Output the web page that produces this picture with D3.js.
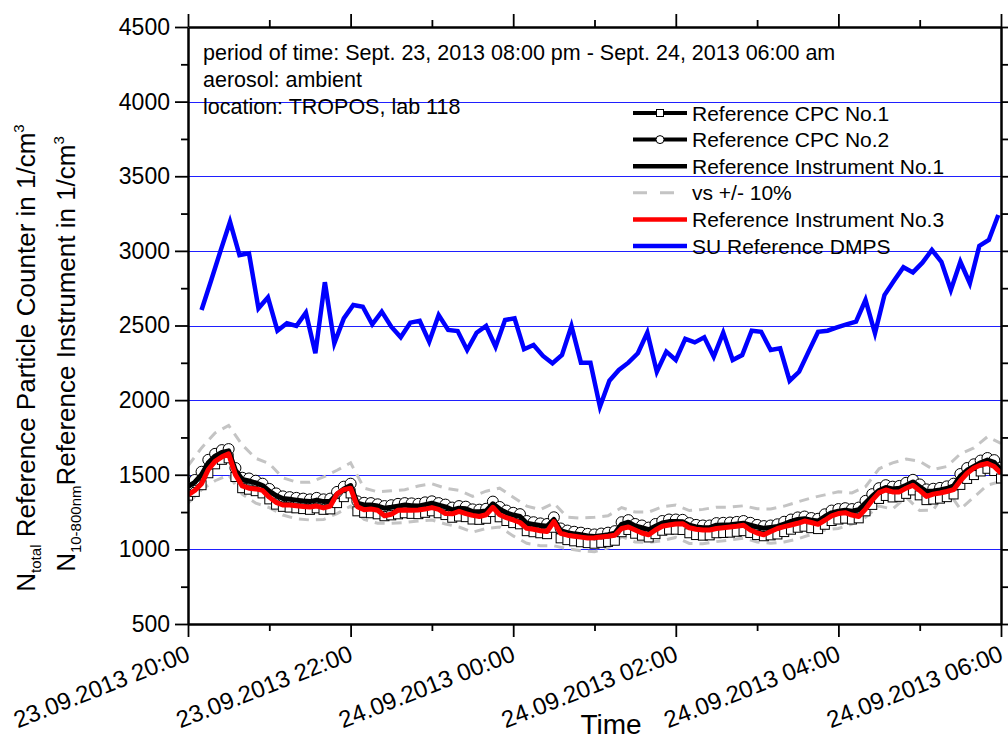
<!DOCTYPE html>
<html>
<head>
<meta charset="utf-8">
<script src="https://cdn.jsdelivr.net/npm/d3@7"></script>
<style>
  body { margin: 0; background: #fff; }
  svg { display: block; font-family: "Liberation Sans", Arial, sans-serif; }
</style>
</head>
<body>
<svg id="chart" width="1008" height="742"></svg>
<script>
// ---- data ---------------------------------------------------------------
const startTime = "2013-09-23 20:00";
const endTime = "2013-09-24 06:00";

// 5-minute series, starting 20:00
const refInstrument1 = [
  1420,1450,1500,1580,1625,1650,1660,1530,1468,1458,
  1445,1428,1390,1360,1341,1336,1330,1324,1320,1330,
  1320,1322,1370,1405,1428,1310,1298,1297,1290,1276,
  1282,1290,1297,1293,1290,1300,1309,1297,1285,1265,
  1276,1272,1253,1252,1258,1305,1270,1245,1230,1221,
  1175,1167,1160,1155,1200,1126,1112,1104,1098,1090,
  1086,1092,1098,1108,1168,1182,1157,1145,1132,1155,
  1177,1186,1186,1185,1162,1150,1145,1146,1162,1163,
  1165,1170,1175,1163,1150,1141,1147,1154,1170,1187,
  1200,1206,1195,1190,1220,1245,1256,1262,1256,1265,
  1310,1356,1395,1415,1405,1410,1430,1452,1420,1388,
  1392,1398,1408,1425,1490,1530,1555,1580,1598,1583,
  1532
];
const refInstrument3 = [
  1365,1395,1440,1535,1590,1620,1640,1500,1425,1410,
  1405,1395,1350,1315,1297,1297,1292,1288,1284,1290,
  1278,1290,1372,1400,1410,1286,1266,1270,1262,1225,
  1235,1262,1264,1262,1264,1270,1280,1268,1240,1238,
  1255,1240,1228,1220,1232,1282,1232,1212,1197,1180,
  1141,1135,1125,1120,1186,1108,1095,1088,1082,1076,
  1078,1083,1088,1095,1140,1150,1130,1110,1098,1130,
  1155,1163,1170,1172,1145,1135,1130,1130,1140,1145,
  1150,1155,1162,1130,1110,1098,1120,1140,1152,1163,
  1175,1190,1180,1168,1195,1225,1240,1246,1230,1220,
  1270,1330,1380,1398,1385,1385,1410,1430,1395,1355,
  1370,1378,1388,1400,1460,1510,1545,1565,1575,1555,
  1510
];
const cpc2 = [
  1435,1465,1520,1600,1640,1665,1672,1545,1480,1475,
  1460,1440,1405,1375,1355,1350,1345,1340,1335,1345,
  1335,1340,1385,1420,1440,1322,1312,1310,1302,1290,
  1296,1305,1310,1308,1305,1315,1322,1310,1300,1280,
  1290,1286,1268,1266,1272,1320,1284,1260,1245,1236,
  1190,1182,1174,1170,1215,1140,1126,1118,1112,1104,
  1100,1106,1112,1122,1182,1196,1170,1160,1146,1170,
  1190,1200,1200,1198,1176,1164,1160,1160,1176,1178,
  1180,1184,1190,1178,1164,1156,1160,1168,1185,1200,
  1214,1220,1210,1205,1235,1260,1270,1276,1270,1280,
  1325,1370,1410,1430,1420,1425,1446,1466,1435,1402,
  1406,1412,1422,1440,1505,1545,1570,1595,1612,1598,
  1548
];
const cpc1 = [
  1360,1385,1430,1510,1570,1600,1610,1485,1410,1400,
  1390,1375,1335,1300,1285,1280,1275,1270,1265,1275,
  1265,1268,1310,1350,1375,1255,1245,1242,1235,1222,
  1228,1235,1242,1238,1236,1245,1255,1242,1230,1212,
  1220,1216,1200,1198,1205,1250,1215,1190,1176,1168,
  1122,1115,1108,1102,1145,1074,1062,1054,1048,1042,
  1038,1044,1050,1058,1115,1130,1105,1092,1080,1102,
  1125,1132,1132,1130,1108,1096,1092,1094,1108,1110,
  1112,1118,1122,1110,1096,1088,1094,1100,1116,1132,
  1145,1152,1142,1136,1165,1190,1200,1206,1200,1208,
  1255,1298,1338,1358,1348,1352,1372,1395,1362,1330,
  1334,1340,1350,1368,1432,1472,1498,1522,1540,1525,
  1475
];

// 10-minute band lines, starting 20:00
const bandUpper = [
  1560,1680,1780,1830,1700,1610,1575,1480,1450,1450,
  1485,1530,1580,1410,1386,1392,1400,1425,1440,1410,
  1395,1355,1390,1410,1350,1290,1266,1310,1215,1210,
  1215,1225,1280,1250,1250,1285,1297,1260,1268,1283,
  1283,1292,1272,1270,1290,1318,1345,1365,1386,1378,
  1420,1540,1580,1605,1590,1535,1555,1640,1680,1755,
  1710
];
const bandLower = [
  1310,1400,1460,1498,1370,1310,1280,1230,1205,1197,
  1200,1240,1290,1200,1175,1175,1180,1190,1197,1170,
  1150,1115,1140,1150,1090,1041,1025,1024,1005,990,
  984,1010,1085,1050,1046,1058,1080,1040,1038,1052,
  1063,1075,1050,1041,1050,1070,1100,1130,1140,1170,
  1215,1290,1270,1350,1260,1264,1400,1270,1350,1431,
  1455
];

// DMPS scans every 7 minutes, first scan 20:10
const dmpsStart = "2013-09-23 20:10";
const dmps = [
  2604,2800,3000,3195,2972,2984,2615,2689,2465,2515,
  2497,2586,2314,2790,2381,2548,2637,2626,2508,2593,
  2492,2421,2519,2532,2391,2570,2470,2463,2336,2452,
  2497,2358,2537,2548,2341,2369,2296,2247,2302,2497,
  2251,2251,1956,2130,2202,2251,2314,2452,2190,2325,
  2269,2410,2387,2421,2291,2452,2269,2302,2465,2458,
  2336,2347,2130,2190,2325,2458,2465,2488,2508,2526,
  2671,2448,2704,2800,2890,2856,2921,3006,2927,2738,
  2927,2783,3033,3073,3240
];

const yTicks = [500,1000,1500,2000,2500,3000,3500,4000,4500];
const yMinorTicks = [750,1250,1750,2250,2750,3250,3750,4250];
const gridValues = [1000,1500,2000,2500,3000,3500,4000];

const infoLines = [
  "period of time: Sept. 23, 2013 08:00 pm - Sept. 24, 2013 06:00 am",
  "aerosol: ambient",
  "location: TROPOS, lab 118"
];
const legendLabels = [
  "Reference CPC No.1",
  "Reference CPC No.2",
  "Reference Instrument No.1",
  "vs +/- 10%",
  "Reference Instrument No.3",
  "SU Reference DMPS"
];

(function draw() {
  // ---- scales -----------------------------------------------------------
  const parse = d3.timeParse("%Y-%m-%d %H:%M");
  const t0 = parse(startTime), t1 = parse(endTime);
  const pL = 188, pR = 1001, pT = 27, pB = 624;

  const x = d3.scaleTime().domain([t0, t1]).range([pL, pR]);
  const y = d3.scaleLinear().domain([500, 4500]).range([pB, pT]);

  const series = (vals, start, stepMin) =>
    vals.map((v, i) => ({ t: d3.timeMinute.offset(start, i * stepMin), v }));

  const sInst1 = series(refInstrument1, t0, 5);
  const sInst3 = series(refInstrument3, t0, 5);
  const sCpc1 = series(cpc1, t0, 5);
  const sCpc2 = series(cpc2, t0, 5);
  const sUp = series(bandUpper, t0, 10);
  const sLo = series(bandLower, t0, 10);
  const sDmps = series(dmps, parse(dmpsStart), 7);

  const line = d3.line().x(d => x(d.t)).y(d => y(d.v));

  const svg = d3.select("#chart");
  svg.append("defs").append("clipPath").attr("id", "plotClip")
    .append("rect").attr("x", pL).attr("y", pT)
    .attr("width", pR - pL).attr("height", pB - pT);

  // ---- grid -------------------------------------------------------------
  svg.append("g").selectAll("line").data(gridValues).join("line")
    .attr("x1", pL).attr("x2", pR)
    .attr("y1", d => Math.round(y(d)) + 0.5).attr("y2", d => Math.round(y(d)) + 0.5)
    .attr("stroke", "#1f1fff").attr("stroke-width", 1);

  // ---- data marks -------------------------------------------------------
  const plot = svg.append("g").attr("clip-path", "url(#plotClip)");

  [sUp, sLo].forEach(s => plot.append("path").datum(s)
    .attr("d", line).attr("fill", "none")
    .attr("stroke", "#c4c4c4").attr("stroke-width", 3)
    .attr("stroke-dasharray", "10,7"));

  plot.append("path").datum(sCpc1).attr("d", line).attr("fill", "none")
    .attr("stroke", "#000").attr("stroke-width", 2.5);
  plot.append("g").selectAll("rect").data(sCpc1).join("rect")
    .attr("x", d => x(d.t) - 4.5).attr("y", d => y(d.v) - 4.5)
    .attr("width", 9).attr("height", 9)
    .attr("fill", "#fff").attr("stroke", "#000").attr("stroke-width", 1);

  plot.append("path").datum(sCpc2).attr("d", line).attr("fill", "none")
    .attr("stroke", "#000").attr("stroke-width", 2.5);
  plot.append("g").selectAll("circle").data(sCpc2).join("circle")
    .attr("cx", d => x(d.t)).attr("cy", d => y(d.v)).attr("r", 5.5)
    .attr("fill", "#fff").attr("stroke", "#000").attr("stroke-width", 1);

  plot.append("path").datum(sInst1).attr("d", line).attr("fill", "none")
    .attr("stroke", "#000").attr("stroke-width", 5).attr("stroke-linejoin", "round");
  plot.append("path").datum(sInst3).attr("d", line).attr("fill", "none")
    .attr("stroke", "#ff0000").attr("stroke-width", 5).attr("stroke-linejoin", "round");
  plot.append("path").datum(sDmps).attr("d", line).attr("fill", "none")
    .attr("stroke", "#0000ff").attr("stroke-width", 4.5);

  // ---- axes -------------------------------------------------------------
  const hours2 = d3.timeHour.every(2).range(t0, d3.timeMinute.offset(t1, 1));
  const hours1 = d3.timeHour.every(1).range(t0, d3.timeMinute.offset(t1, 1))
    .filter(d => d.getHours() % 2 === 1);

  function styleAxis(g) {
    g.select(".domain").attr("stroke", "#000").attr("stroke-width", 2.5);
    g.selectAll(".tick line").attr("stroke", "#000").attr("stroke-width", 1.8);
  }

  // left
  svg.append("g").attr("transform", `translate(${pL},0)`)
    .call(d3.axisLeft(y).tickValues(yMinorTicks).tickSize(7).tickFormat("").tickSizeOuter(0))
    .call(g => g.select(".domain").remove())
    .call(styleAxis);
  svg.append("g").attr("transform", `translate(${pL},0)`)
    .call(d3.axisLeft(y).tickValues(yTicks).tickSize(13).tickPadding(5)
      .tickFormat(d3.format("d")).tickSizeOuter(0))
    .call(styleAxis)
    .call(g => g.selectAll("text").attr("font-size", 23).attr("fill", "#000")
      .attr("font-family", "Liberation Sans, Arial, sans-serif"));

  // right
  svg.append("g").attr("transform", `translate(${pR},0)`)
    .call(d3.axisRight(y).tickValues(yTicks.concat(yMinorTicks)).tickSize(8).tickFormat("").tickSizeOuter(0))
    .call(styleAxis);

  // bottom
  svg.append("g").attr("transform", `translate(0,${pB})`)
    .call(d3.axisBottom(x).tickValues(hours1).tickSize(7).tickFormat("").tickSizeOuter(0))
    .call(g => g.select(".domain").remove())
    .call(styleAxis);
  svg.append("g").attr("transform", `translate(0,${pB})`)
    .call(d3.axisBottom(x).tickValues(hours2).tickSize(13)
      .tickFormat(d3.timeFormat("%d.%m.%Y %H:%M")).tickSizeOuter(0))
    .call(styleAxis)
    .call(g => g.selectAll("text")
      .attr("font-size", 24).attr("fill", "#000")
      .attr("font-family", "Liberation Sans, Arial, sans-serif")
      .attr("text-anchor", "end").attr("x", 0).attr("y", 0).attr("dy", 0)
      .attr("transform", "translate(3,36) rotate(-21.5)"));

  // top
  svg.append("g").attr("transform", `translate(0,${pT})`)
    .call(d3.axisTop(x).tickValues(hours1).tickSize(7).tickFormat("").tickSizeOuter(0))
    .call(g => g.select(".domain").remove())
    .call(styleAxis);
  svg.append("g").attr("transform", `translate(0,${pT})`)
    .call(d3.axisTop(x).tickValues(hours2).tickSize(13).tickFormat("").tickSizeOuter(0))
    .call(styleAxis);

  // ---- axis titles ------------------------------------------------------
  svg.append("text").attr("x", 611).attr("y", 734)
    .attr("text-anchor", "middle").attr("font-size", 28).text("Time");

  function yTitle(xPos, yPos, sub, rest) {
    const t = svg.append("text")
      .attr("transform", `translate(${xPos},${yPos}) rotate(-90)`)
      .attr("text-anchor", "middle").attr("font-size", 26);
    t.append("tspan").text("N");
    t.append("tspan").attr("font-size", 15).attr("dy", 6).text(sub);
    t.append("tspan").attr("dy", -6).text(rest);
    t.append("tspan").attr("font-size", 15).attr("dy", -11).text("3");
  }
  yTitle(35, 358, "total", " Reference Particle Counter in 1/cm");
  yTitle(75, 354, "10-800nm", "Reference Instrument in 1/cm");

  // ---- info text --------------------------------------------------------
  svg.append("g").selectAll("text").data(infoLines).join("text")
    .attr("x", 203).attr("y", (d, i) => 60 + i * 27)
    .attr("font-size", 21.5).text(d => d);

  // ---- legend -----------------------------------------------------------
  const lg = svg.append("g");
  const rowY = i => 113 + i * 26.6;
  const lx1 = 633, lx2 = 687, lmx = 660;
  legendLabels.forEach((label, i) => {
    const yy = rowY(i);
    const ln = lg.append("line").attr("x1", lx1).attr("x2", lx2).attr("y1", yy).attr("y2", yy);
    if (i === 0 || i === 1) ln.attr("stroke", "#000").attr("stroke-width", 4);
    if (i === 2) ln.attr("stroke", "#000").attr("stroke-width", 4.5);
    if (i === 3) ln.attr("stroke", "#c4c4c4").attr("stroke-width", 3).attr("stroke-dasharray", "14,13");
    if (i === 4) ln.attr("stroke", "#ff0000").attr("stroke-width", 4.5);
    if (i === 5) ln.attr("stroke", "#0000ff").attr("stroke-width", 4.5);
    if (i === 0) lg.append("rect").attr("x", lmx - 3.5).attr("y", yy - 3.5).attr("width", 7).attr("height", 7)
      .attr("fill", "#fff").attr("stroke", "#000").attr("stroke-width", 1);
    if (i === 1) lg.append("circle").attr("cx", lmx).attr("cy", yy).attr("r", 4)
      .attr("fill", "#fff").attr("stroke", "#000").attr("stroke-width", 1);
    lg.append("text").attr("x", 692).attr("y", yy + 7.5).attr("font-size", 21).text(label);
  });
})();
</script>
</body>
</html>
